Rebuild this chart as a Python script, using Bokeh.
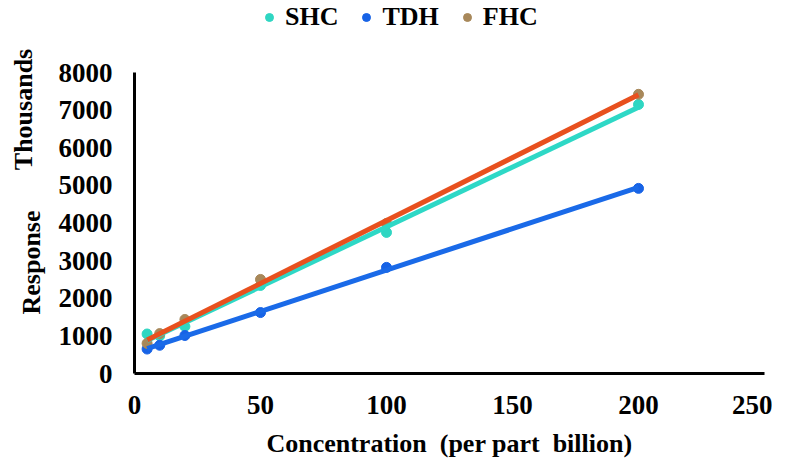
import numpy as np
from bokeh.plotting import figure
from bokeh.models import Legend, LegendItem, Label, FixedTicker, Range1d
from bokeh.embed import file_html
from bokeh.resources import INLINE

concentration = [5, 10, 20, 50, 100, 200]
shc = [1050, 1000, 1250, 2340, 3750, 7150]
tdh = [650, 750, 1010, 1620, 2820, 4920]
fhc = [800, 1060, 1436, 2500, 3990, 7420]

series_names = ["SHC", "TDH", "FHC"]
x_ticks = [0, 50, 100, 150, 200, 250]
y_ticks = [0, 1000, 2000, 3000, 4000, 5000, 6000, 7000, 8000]
x_lim = (0, 250)
y_lim = (0, 8000)

marker_colors = ["#2FD6C2", "#1763E6", "#A8885A"]
line_colors = ["#2ED8C6", "#1A6AE8", "#E8501E"]

FONT = "Liberation Serif"

W, H = 772, 461
# plot box (in canvas pixels) where the axes sit
left_px, right_px, top_px, bottom_px = 134, 764, 72, 373
sx = (right_px - left_px) / (x_lim[1] - x_lim[0])
sy = (bottom_px - top_px) / (y_lim[1] - y_lim[0])
x_range = Range1d(x_lim[0] - left_px / sx, x_lim[0] + (W - left_px) / sx)
y_range = Range1d(y_lim[0] - (H - bottom_px) / sy, y_lim[0] + bottom_px / sy)

p = figure(width=W, height=H, output_backend="svg", toolbar_location=None,
           x_range=x_range, y_range=y_range,
           min_border=0)
p.outline_line_color = None
p.grid.visible = False
p.background_fill_color = "white"

data = [shc, tdh, fhc]
markers = []
for ys, mc in zip(data, marker_colors):
    r = p.scatter(concentration, ys, size=10, fill_color=mc, line_color=mc)
    markers.append(r)

xs = np.array(concentration, dtype=float)
xfit = np.array([min(concentration), max(concentration)], dtype=float)
for ys, lc in zip(data, line_colors):
    k, b = np.polyfit(xs, np.array(ys, dtype=float), 1)
    p.line(xfit, k * xfit + b, line_width=5, line_color=lc)

for ax in (p.xaxis[0], p.yaxis[0]):
    ax.axis_line_color = "black"
    ax.axis_line_width = 3
    ax.major_tick_line_color = None
    ax.minor_tick_line_color = None
    ax.major_tick_out = 0
    ax.major_tick_in = 0
    ax.major_label_text_font = FONT
    ax.major_label_text_font_style = "bold"
    ax.major_label_text_font_size = "27px"
    ax.major_label_text_color = "black"
    ax.fixed_location = 0

p.xaxis.bounds = x_lim
p.yaxis.bounds = y_lim
p.xaxis.ticker = FixedTicker(ticks=x_ticks)
p.yaxis.ticker = FixedTicker(ticks=y_ticks)
p.yaxis.major_label_standoff = 22
p.xaxis.major_label_standoff = 22

titles = [
    ("Concentration\u00a0 (per part\u00a0 billion)", 125, -1870, 0),
    ("Response", -40.9, 2950, np.pi / 2),
    ("Thousands", -44.0, 7017, np.pi / 2),
]
for txt, x, y, ang in titles:
    p.add_layout(Label(x=x, y=y, text=txt, angle=ang,
                       text_align="center", text_baseline="middle",
                       text_font=FONT, text_font_style="bold",
                       text_font_size="26px", text_color="black"))

legend = Legend(items=[LegendItem(label=n, renderers=[r]) for n, r in zip(series_names, markers)],
                orientation="horizontal", location=(259, H - 32),
                glyph_width=20, glyph_height=20, label_standoff=6, spacing=18,
                padding=0, margin=0, border_line_color=None, background_fill_alpha=0,
                label_text_font=FONT, label_text_font_style="bold",
                label_text_font_size="26px", label_text_color="black")
p.add_layout(legend, "center")

open("out.html", "w").write(file_html(p, INLINE))
